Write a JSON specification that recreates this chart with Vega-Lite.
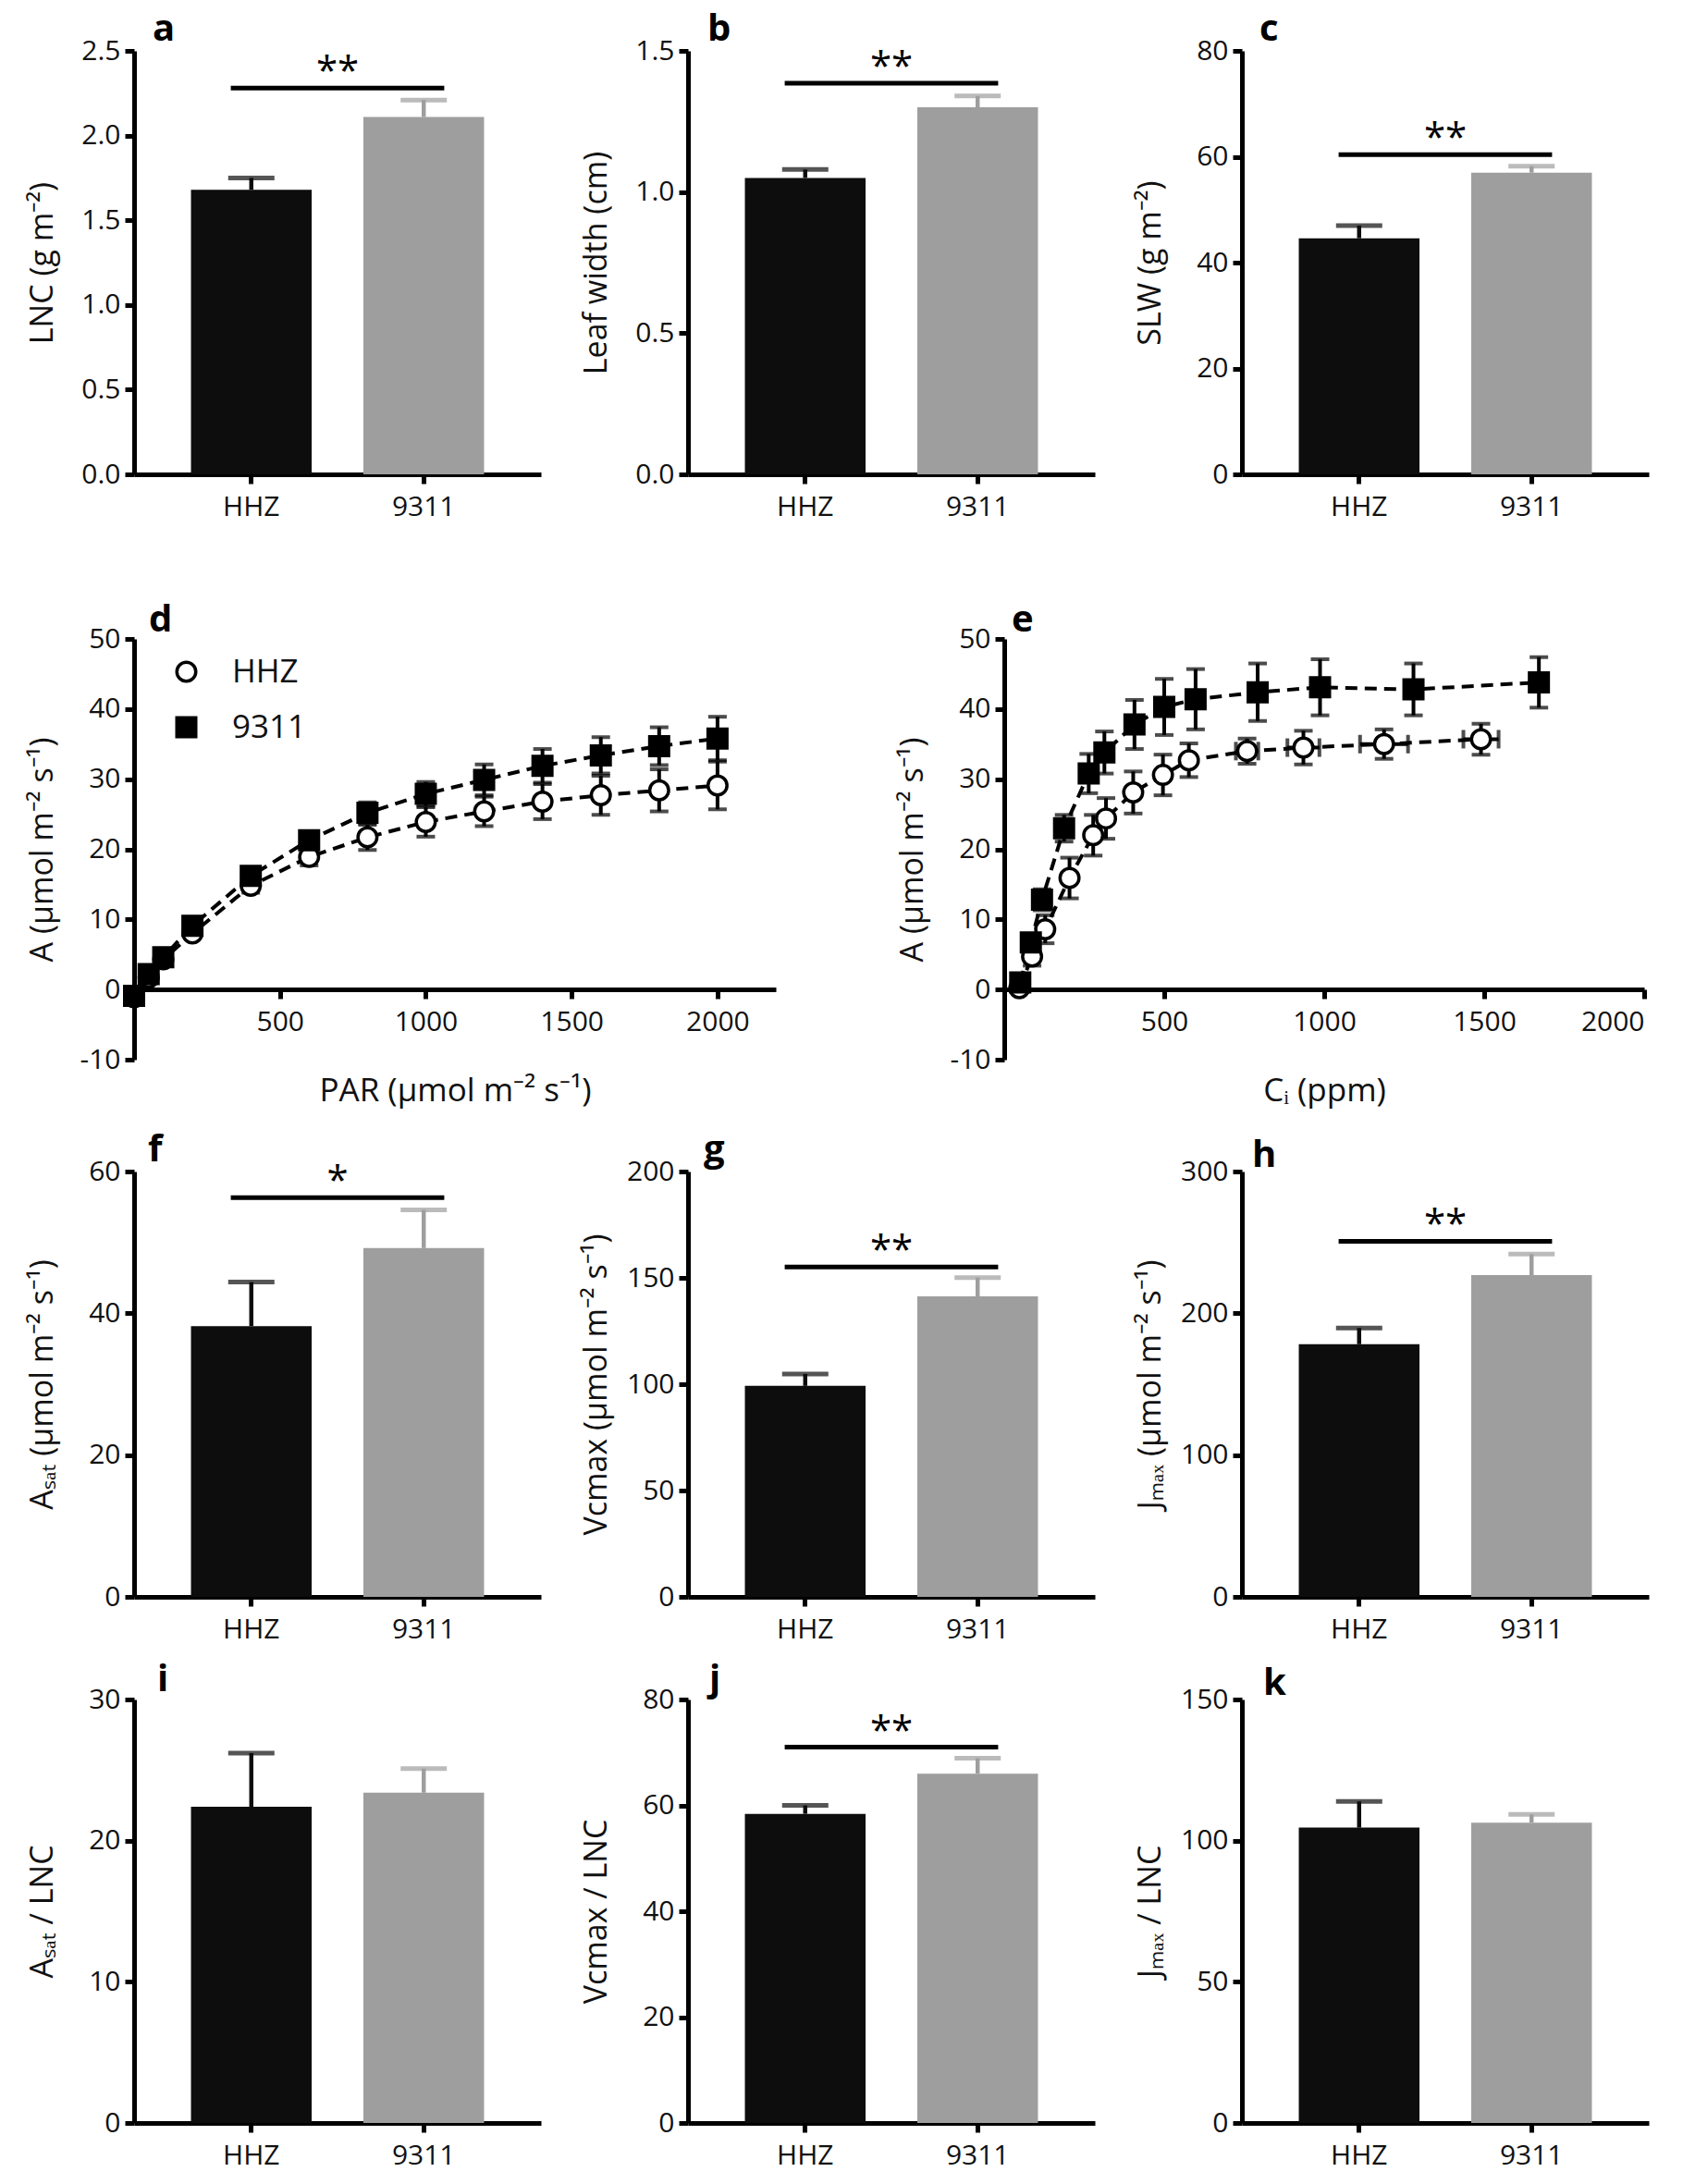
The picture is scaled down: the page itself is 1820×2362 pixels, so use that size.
{
"$schema": "https://vega.github.io/schema/vega-lite/v6.json",
"padding": {"left": 29, "top": 12, "right": 5, "bottom": 2},
"background": "white",
"datasets": {
"bars": [
{"panel":"a","cultivar":"HHZ","value":1.68,"cap":1.75},
{"panel":"a","cultivar":"9311","value":2.11,"cap":2.21},
{"panel":"b","cultivar":"HHZ","value":1.05,"cap":1.08},
{"panel":"b","cultivar":"9311","value":1.30,"cap":1.34},
{"panel":"c","cultivar":"HHZ","value":44.6,"cap":47.0},
{"panel":"c","cultivar":"9311","value":57.0,"cap":58.2},
{"panel":"f","cultivar":"HHZ","value":38.2,"cap":44.4},
{"panel":"f","cultivar":"9311","value":49.2,"cap":54.6},
{"panel":"g","cultivar":"HHZ","value":99.2,"cap":104.8},
{"panel":"g","cultivar":"9311","value":141.3,"cap":150.1},
{"panel":"h","cultivar":"HHZ","value":178.2,"cap":189.7},
{"panel":"h","cultivar":"9311","value":226.9,"cap":241.8},
{"panel":"i","cultivar":"HHZ","value":22.4,"cap":26.2},
{"panel":"i","cultivar":"9311","value":23.4,"cap":25.1},
{"panel":"j","cultivar":"HHZ","value":58.4,"cap":60.0},
{"panel":"j","cultivar":"9311","value":66.0,"cap":68.9},
{"panel":"k","cultivar":"HHZ","value":104.6,"cap":113.9},
{"panel":"k","cultivar":"9311","value":106.4,"cap":109.3}
],
"sig": [
{"panel":"a","from":"HHZ","to":"9311","y":2.28,"stars":"**"},
{"panel":"b","from":"HHZ","to":"9311","y":1.385,"stars":"**"},
{"panel":"c","from":"HHZ","to":"9311","y":60.4,"stars":"**"},
{"panel":"f","from":"HHZ","to":"9311","y":56.3,"stars":"*"},
{"panel":"g","from":"HHZ","to":"9311","y":155.1,"stars":"**"},
{"panel":"h","from":"HHZ","to":"9311","y":250.8,"stars":"**"},
{"panel":"j","from":"HHZ","to":"9311","y":71.0,"stars":"**"}
],
"light": [
{"cultivar":"HHZ","PAR":0,"A":-1.1,"err":0.3},
{"cultivar":"HHZ","PAR":50,"A":1.7,"err":0.3},
{"cultivar":"HHZ","PAR":100,"A":4.3,"err":0.4},
{"cultivar":"HHZ","PAR":200,"A":8.0,"err":0.6},
{"cultivar":"HHZ","PAR":400,"A":14.8,"err":1.0},
{"cultivar":"HHZ","PAR":600,"A":18.9,"err":1.2},
{"cultivar":"HHZ","PAR":800,"A":21.7,"err":1.8},
{"cultivar":"HHZ","PAR":1000,"A":23.9,"err":2.1},
{"cultivar":"HHZ","PAR":1200,"A":25.4,"err":2.1},
{"cultivar":"HHZ","PAR":1400,"A":26.8,"err":2.5},
{"cultivar":"HHZ","PAR":1600,"A":27.7,"err":2.8},
{"cultivar":"HHZ","PAR":1800,"A":28.4,"err":3.0},
{"cultivar":"HHZ","PAR":2000,"A":29.1,"err":3.4},
{"cultivar":"9311","PAR":0,"A":-0.9,"err":0.3},
{"cultivar":"9311","PAR":50,"A":2.2,"err":0.3},
{"cultivar":"9311","PAR":100,"A":4.6,"err":0.4},
{"cultivar":"9311","PAR":200,"A":9.1,"err":0.6},
{"cultivar":"9311","PAR":400,"A":16.2,"err":1.0},
{"cultivar":"9311","PAR":600,"A":21.3,"err":1.0},
{"cultivar":"9311","PAR":800,"A":25.2,"err":1.5},
{"cultivar":"9311","PAR":1000,"A":27.9,"err":1.7},
{"cultivar":"9311","PAR":1200,"A":29.9,"err":2.2},
{"cultivar":"9311","PAR":1400,"A":31.9,"err":2.4},
{"cultivar":"9311","PAR":1600,"A":33.4,"err":2.6},
{"cultivar":"9311","PAR":1800,"A":34.7,"err":2.7},
{"cultivar":"9311","PAR":2000,"A":35.8,"err":3.1}
],
"aci": [
{"cultivar":"HHZ","Ci":47,"A":0.2,"err":0.5,"xerr":0},
{"cultivar":"HHZ","Ci":87,"A":4.7,"err":1.3,"xerr":0},
{"cultivar":"HHZ","Ci":128,"A":8.6,"err":2.0,"xerr":0},
{"cultivar":"HHZ","Ci":204,"A":15.9,"err":2.9,"xerr":0},
{"cultivar":"HHZ","Ci":278,"A":22.0,"err":2.9,"xerr":0},
{"cultivar":"HHZ","Ci":318,"A":24.4,"err":2.9,"xerr":0},
{"cultivar":"HHZ","Ci":403,"A":28.1,"err":3.0,"xerr":0},
{"cultivar":"HHZ","Ci":496,"A":30.6,"err":2.9,"xerr":0},
{"cultivar":"HHZ","Ci":577,"A":32.7,"err":2.4,"xerr":0},
{"cultivar":"HHZ","Ci":759,"A":34.0,"err":1.8,"xerr":35},
{"cultivar":"HHZ","Ci":935,"A":34.5,"err":2.4,"xerr":50},
{"cultivar":"HHZ","Ci":1187,"A":35.0,"err":2.1,"xerr":75},
{"cultivar":"HHZ","Ci":1490,"A":35.7,"err":2.2,"xerr":55},
{"cultivar":"9311","Ci":50,"A":1.0,"err":0.5,"xerr":0},
{"cultivar":"9311","Ci":83,"A":6.7,"err":1.2,"xerr":0},
{"cultivar":"9311","Ci":118,"A":12.8,"err":1.5,"xerr":0},
{"cultivar":"9311","Ci":187,"A":23.0,"err":1.9,"xerr":0},
{"cultivar":"9311","Ci":264,"A":30.8,"err":2.8,"xerr":0},
{"cultivar":"9311","Ci":313,"A":33.8,"err":3.0,"xerr":0},
{"cultivar":"9311","Ci":407,"A":37.8,"err":3.5,"xerr":0},
{"cultivar":"9311","Ci":500,"A":40.3,"err":4.0,"xerr":0},
{"cultivar":"9311","Ci":598,"A":41.4,"err":4.3,"xerr":0},
{"cultivar":"9311","Ci":792,"A":42.4,"err":4.1,"xerr":0},
{"cultivar":"9311","Ci":987,"A":43.1,"err":4.0,"xerr":0},
{"cultivar":"9311","Ci":1279,"A":42.8,"err":3.7,"xerr":0},
{"cultivar":"9311","Ci":1671,"A":43.8,"err":3.6,"xerr":0}
]
},
"resolve": {"scale": {"shape":"independent","fill":"independent","stroke":"independent"}, "legend": {"shape":"independent","fill":"independent","stroke":"independent"}},
"vconcat": [
{"hconcat": [
{"width":440,"height":458,"title":{"text":"a","dx":20,"offset":-12},
"layer":[
{"data":{"name":"bars"},"transform":[{"filter":"datum.panel==='a'"}],"mark":{"type":"bar"},
"encoding":{"x":{"field":"cultivar","type":"nominal","scale":{"domain":["HHZ","9311"],"paddingInner":0.3,"paddingOuter":0.33},"axis":{"title":null,"labelAngle":0}},
"y":{"field":"value","type":"quantitative","scale":{"domain":[0,2.5],"nice":false},"axis":{"title":"LNC (g m⁻²)","values":[0,0.5,1,1.5,2,2.5],"format":".1f"}},
"color":{"field":"cultivar","type":"nominal","scale":{"domain":["HHZ","9311"],"range":["#0d0d0d","#9e9e9e"]},"legend":null}}},
{"data":{"name":"bars"},"transform":[{"filter":"datum.panel==='a'"}],"mark":{"type":"rule","strokeWidth":4.5},
"encoding":{"x":{"field":"cultivar","type":"nominal"},"y":{"field":"value","type":"quantitative"},"y2":{"field":"cap"},"color":{"field":"cultivar","type":"nominal","legend":null}}},
{"data":{"name":"bars"},"transform":[{"filter":"datum.panel==='a'"}],"mark":{"type":"tick","size":50,"thickness":5},
"encoding":{"x":{"field":"cultivar","type":"nominal"},"y":{"field":"cap","type":"quantitative"},"color":{"field":"cultivar","type":"nominal","legend":null}}},
{"data":{"name":"sig"},"transform":[{"filter":"datum.panel==='a'"}],"mark":{"type":"rule","strokeWidth":5,"color":"#000"},
"encoding":{"x":{"field":"from","type":"nominal","bandPosition":0.33},"x2":{"field":"to","bandPosition":0.67},"y":{"field":"y","type":"quantitative"}}},
{"data":{"name":"sig"},"transform":[{"filter":"datum.panel==='a'"}],"mark":{"type":"text","fontSize":42,"baseline":"alphabetic","dy":-4,"color":"#000"},
"encoding":{"x":{"field":"from","type":"nominal","bandPosition":1.2143},"y":{"field":"y","type":"quantitative"},"text":{"field":"stars"}}}
]},
{"width":440,"height":458,"title":{"text":"b","dx":21,"offset":-12},
"layer":[
{"data":{"name":"bars"},"transform":[{"filter":"datum.panel==='b'"}],"mark":{"type":"bar"},
"encoding":{"x":{"field":"cultivar","type":"nominal","scale":{"domain":["HHZ","9311"],"paddingInner":0.3,"paddingOuter":0.33},"axis":{"title":null,"labelAngle":0}},
"y":{"field":"value","type":"quantitative","scale":{"domain":[0,1.5],"nice":false},"axis":{"title":"Leaf width (cm)","values":[0,0.5,1,1.5],"format":".1f"}},
"color":{"field":"cultivar","type":"nominal","scale":{"domain":["HHZ","9311"],"range":["#0d0d0d","#9e9e9e"]},"legend":null}}},
{"data":{"name":"bars"},"transform":[{"filter":"datum.panel==='b'"}],"mark":{"type":"rule","strokeWidth":4.5},
"encoding":{"x":{"field":"cultivar","type":"nominal"},"y":{"field":"value","type":"quantitative"},"y2":{"field":"cap"},"color":{"field":"cultivar","type":"nominal","legend":null}}},
{"data":{"name":"bars"},"transform":[{"filter":"datum.panel==='b'"}],"mark":{"type":"tick","size":50,"thickness":5},
"encoding":{"x":{"field":"cultivar","type":"nominal"},"y":{"field":"cap","type":"quantitative"},"color":{"field":"cultivar","type":"nominal","legend":null}}},
{"data":{"name":"sig"},"transform":[{"filter":"datum.panel==='b'"}],"mark":{"type":"rule","strokeWidth":5,"color":"#000"},
"encoding":{"x":{"field":"from","type":"nominal","bandPosition":0.33},"x2":{"field":"to","bandPosition":0.67},"y":{"field":"y","type":"quantitative"}}},
{"data":{"name":"sig"},"transform":[{"filter":"datum.panel==='b'"}],"mark":{"type":"text","fontSize":42,"baseline":"alphabetic","dy":-4,"color":"#000"},
"encoding":{"x":{"field":"from","type":"nominal","bandPosition":1.2143},"y":{"field":"y","type":"quantitative"},"text":{"field":"stars"}}}
]},
{"width":440,"height":458,"title":{"text":"c","dx":19,"offset":-12},
"layer":[
{"data":{"name":"bars"},"transform":[{"filter":"datum.panel==='c'"}],"mark":{"type":"bar"},
"encoding":{"x":{"field":"cultivar","type":"nominal","scale":{"domain":["HHZ","9311"],"paddingInner":0.3,"paddingOuter":0.33},"axis":{"title":null,"labelAngle":0}},
"y":{"field":"value","type":"quantitative","scale":{"domain":[0,80],"nice":false},"axis":{"title":"SLW (g m⁻²)","values":[0,20,40,60,80]}},
"color":{"field":"cultivar","type":"nominal","scale":{"domain":["HHZ","9311"],"range":["#0d0d0d","#9e9e9e"]},"legend":null}}},
{"data":{"name":"bars"},"transform":[{"filter":"datum.panel==='c'"}],"mark":{"type":"rule","strokeWidth":4.5},
"encoding":{"x":{"field":"cultivar","type":"nominal"},"y":{"field":"value","type":"quantitative"},"y2":{"field":"cap"},"color":{"field":"cultivar","type":"nominal","legend":null}}},
{"data":{"name":"bars"},"transform":[{"filter":"datum.panel==='c'"}],"mark":{"type":"tick","size":50,"thickness":5},
"encoding":{"x":{"field":"cultivar","type":"nominal"},"y":{"field":"cap","type":"quantitative"},"color":{"field":"cultivar","type":"nominal","legend":null}}},
{"data":{"name":"sig"},"transform":[{"filter":"datum.panel==='c'"}],"mark":{"type":"rule","strokeWidth":5,"color":"#000"},
"encoding":{"x":{"field":"from","type":"nominal","bandPosition":0.33},"x2":{"field":"to","bandPosition":0.67},"y":{"field":"y","type":"quantitative"}}},
{"data":{"name":"sig"},"transform":[{"filter":"datum.panel==='c'"}],"mark":{"type":"text","fontSize":42,"baseline":"alphabetic","dy":-4,"color":"#000"},
"encoding":{"x":{"field":"from","type":"nominal","bandPosition":1.2143},"y":{"field":"y","type":"quantitative"},"text":{"field":"stars"}}}
]}
], "spacing": 43},
{"resolve": {"scale": {"shape":"independent","fill":"independent","stroke":"independent"}, "legend": {"shape":"independent","fill":"independent","stroke":"independent"}},
"vconcat": [
{"resolve": {"scale": {"shape":"independent","fill":"independent","stroke":"independent"}, "legend": {"shape":"independent","fill":"independent","stroke":"independent"}},
"hconcat": [
{"width":694,"height":455,"title":{"text":"d","dx":16,"offset":-15},
"data":{"name":"light"},
"encoding":{
"x":{"field":"PAR","type":"quantitative","scale":{"domain":[0,2200],"nice":false,"zero":false},"axis":{"title":"PAR (μmol m⁻² s⁻¹)","values":[500,1000,1500,2000],"labelExpr":"'' + datum.value","offset":-76,"titlePadding":42,"titleFontSize":35}},
"y":{"field":"A","type":"quantitative","scale":{"domain":[-10,50],"nice":false,"zero":false},"axis":{"title":"A (μmol m⁻² s⁻¹)","values":[-10,0,10,20,30,40,50],"labelExpr":"'' + datum.value"}}},
"layer":[
{"mark":{"type":"line","color":"#000","strokeWidth":4,"strokeDash":[13,8]},"encoding":{"detail":{"field":"cultivar","type":"nominal"}}},
{"mark":{"type":"errorbar","ticks":true,"size":20,"thickness":4,"color":"#000"},"encoding":{"yError":{"field":"err"}}},
{"mark":{"type":"point","filled":true,"strokeWidth":3.5,"size":420,"opacity":1},
"encoding":{
"shape":{"field":"cultivar","type":"nominal","scale":{"domain":["HHZ","9311"],"range":["circle","square"]},"legend":{"title":null,"orient":"top-left","offset":18,"padding":0,"labelFontSize":35,"symbolSize":420,"symbolStrokeWidth":3.5,"symbolOffset":21,"rowPadding":24,"labelOffset":32,"labelColor":"#111"}},
"fill":{"field":"cultivar","type":"nominal","scale":{"domain":["HHZ","9311"],"range":["#ffffff","#000000"]},"legend":{"title":null,"orient":"top-left","offset":18,"padding":0,"labelFontSize":35,"symbolSize":420,"symbolStrokeWidth":3.5,"symbolOffset":21,"rowPadding":24,"labelOffset":32,"labelColor":"#111"}},
"stroke":{"field":"cultivar","type":"nominal","scale":{"domain":["HHZ","9311"],"range":["#000000","#000000"]},"legend":{"title":null,"orient":"top-left","offset":18,"padding":0,"labelFontSize":35,"symbolSize":420,"symbolStrokeWidth":3.5,"symbolOffset":21,"rowPadding":24,"labelOffset":32,"labelColor":"#111"}}}}
]},
{"width":692,"height":455,"title":{"text":"e","dx":8,"offset":-15},
"data":{"name":"aci"},
"encoding":{
"x":{"field":"Ci","type":"quantitative","scale":{"domain":[0,2000],"nice":false,"zero":false},"axis":{"title":"Cᵢ (ppm)","values":[500,1000,1500,2000],"labelExpr":"'' + datum.value","offset":-76,"titlePadding":42,"titleFontSize":35}},
"y":{"field":"A","type":"quantitative","scale":{"domain":[-10,50],"nice":false,"zero":false},"axis":{"title":"A (μmol m⁻² s⁻¹)","values":[-10,0,10,20,30,40,50],"labelExpr":"'' + datum.value"}}},
"layer":[
{"mark":{"type":"line","color":"#000","strokeWidth":4,"strokeDash":[13,8]},"encoding":{"detail":{"field":"cultivar","type":"nominal"}}},
{"mark":{"type":"errorbar","ticks":true,"size":20,"thickness":4,"color":"#000"},"encoding":{"yError":{"field":"err"}}},
{"transform":[{"filter":"datum.xerr > 0"}],"mark":{"type":"errorbar","ticks":true,"size":20,"thickness":4,"color":"#000"},"encoding":{"xError":{"field":"xerr"}}},
{"mark":{"type":"point","filled":true,"stroke":"#000","strokeWidth":3.5,"size":420,"opacity":1},
"encoding":{
"shape":{"field":"cultivar","type":"nominal","scale":{"domain":["HHZ","9311"],"range":["circle","square"]},"legend":null},
"fill":{"field":"cultivar","type":"nominal","scale":{"domain":["HHZ","9311"],"range":["#ffffff","#000000"]},"legend":null}}}
]}
], "spacing": 131},
{"vconcat": [
{"hconcat": [
{"width":440,"height":460,"title":{"text":"f","dx":15,"offset":-12},
"layer":[
{"data":{"name":"bars"},"transform":[{"filter":"datum.panel==='f'"}],"mark":{"type":"bar"},
"encoding":{"x":{"field":"cultivar","type":"nominal","scale":{"domain":["HHZ","9311"],"paddingInner":0.3,"paddingOuter":0.33},"axis":{"title":null,"labelAngle":0}},
"y":{"field":"value","type":"quantitative","scale":{"domain":[0,60],"nice":false},"axis":{"title":"Aₛₐₜ (μmol m⁻² s⁻¹)","values":[0,20,40,60]}},
"color":{"field":"cultivar","type":"nominal","scale":{"domain":["HHZ","9311"],"range":["#0d0d0d","#9e9e9e"]},"legend":null}}},
{"data":{"name":"bars"},"transform":[{"filter":"datum.panel==='f'"}],"mark":{"type":"rule","strokeWidth":4.5},
"encoding":{"x":{"field":"cultivar","type":"nominal"},"y":{"field":"value","type":"quantitative"},"y2":{"field":"cap"},"color":{"field":"cultivar","type":"nominal","legend":null}}},
{"data":{"name":"bars"},"transform":[{"filter":"datum.panel==='f'"}],"mark":{"type":"tick","size":50,"thickness":5},
"encoding":{"x":{"field":"cultivar","type":"nominal"},"y":{"field":"cap","type":"quantitative"},"color":{"field":"cultivar","type":"nominal","legend":null}}},
{"data":{"name":"sig"},"transform":[{"filter":"datum.panel==='f'"}],"mark":{"type":"rule","strokeWidth":5,"color":"#000"},
"encoding":{"x":{"field":"from","type":"nominal","bandPosition":0.33},"x2":{"field":"to","bandPosition":0.67},"y":{"field":"y","type":"quantitative"}}},
{"data":{"name":"sig"},"transform":[{"filter":"datum.panel==='f'"}],"mark":{"type":"text","fontSize":42,"baseline":"alphabetic","dy":-4,"color":"#000"},
"encoding":{"x":{"field":"from","type":"nominal","bandPosition":1.2143},"y":{"field":"y","type":"quantitative"},"text":{"field":"stars"}}}
]},
{"width":440,"height":460,"title":{"text":"g","dx":17,"offset":-12},
"layer":[
{"data":{"name":"bars"},"transform":[{"filter":"datum.panel==='g'"}],"mark":{"type":"bar"},
"encoding":{"x":{"field":"cultivar","type":"nominal","scale":{"domain":["HHZ","9311"],"paddingInner":0.3,"paddingOuter":0.33},"axis":{"title":null,"labelAngle":0}},
"y":{"field":"value","type":"quantitative","scale":{"domain":[0,200],"nice":false},"axis":{"title":"Vcmax (μmol m⁻² s⁻¹)","values":[0,50,100,150,200]}},
"color":{"field":"cultivar","type":"nominal","scale":{"domain":["HHZ","9311"],"range":["#0d0d0d","#9e9e9e"]},"legend":null}}},
{"data":{"name":"bars"},"transform":[{"filter":"datum.panel==='g'"}],"mark":{"type":"rule","strokeWidth":4.5},
"encoding":{"x":{"field":"cultivar","type":"nominal"},"y":{"field":"value","type":"quantitative"},"y2":{"field":"cap"},"color":{"field":"cultivar","type":"nominal","legend":null}}},
{"data":{"name":"bars"},"transform":[{"filter":"datum.panel==='g'"}],"mark":{"type":"tick","size":50,"thickness":5},
"encoding":{"x":{"field":"cultivar","type":"nominal"},"y":{"field":"cap","type":"quantitative"},"color":{"field":"cultivar","type":"nominal","legend":null}}},
{"data":{"name":"sig"},"transform":[{"filter":"datum.panel==='g'"}],"mark":{"type":"rule","strokeWidth":5,"color":"#000"},
"encoding":{"x":{"field":"from","type":"nominal","bandPosition":0.33},"x2":{"field":"to","bandPosition":0.67},"y":{"field":"y","type":"quantitative"}}},
{"data":{"name":"sig"},"transform":[{"filter":"datum.panel==='g'"}],"mark":{"type":"text","fontSize":42,"baseline":"alphabetic","dy":-4,"color":"#000"},
"encoding":{"x":{"field":"from","type":"nominal","bandPosition":1.2143},"y":{"field":"y","type":"quantitative"},"text":{"field":"stars"}}}
]},
{"width":440,"height":460,"title":{"text":"h","dx":11,"offset":-18},
"layer":[
{"data":{"name":"bars"},"transform":[{"filter":"datum.panel==='h'"}],"mark":{"type":"bar"},
"encoding":{"x":{"field":"cultivar","type":"nominal","scale":{"domain":["HHZ","9311"],"paddingInner":0.3,"paddingOuter":0.33},"axis":{"title":null,"labelAngle":0}},
"y":{"field":"value","type":"quantitative","scale":{"domain":[0,300],"nice":false},"axis":{"title":"Jₘₐₓ (μmol m⁻² s⁻¹)","values":[0,100,200,300]}},
"color":{"field":"cultivar","type":"nominal","scale":{"domain":["HHZ","9311"],"range":["#0d0d0d","#9e9e9e"]},"legend":null}}},
{"data":{"name":"bars"},"transform":[{"filter":"datum.panel==='h'"}],"mark":{"type":"rule","strokeWidth":4.5},
"encoding":{"x":{"field":"cultivar","type":"nominal"},"y":{"field":"value","type":"quantitative"},"y2":{"field":"cap"},"color":{"field":"cultivar","type":"nominal","legend":null}}},
{"data":{"name":"bars"},"transform":[{"filter":"datum.panel==='h'"}],"mark":{"type":"tick","size":50,"thickness":5},
"encoding":{"x":{"field":"cultivar","type":"nominal"},"y":{"field":"cap","type":"quantitative"},"color":{"field":"cultivar","type":"nominal","legend":null}}},
{"data":{"name":"sig"},"transform":[{"filter":"datum.panel==='h'"}],"mark":{"type":"rule","strokeWidth":5,"color":"#000"},
"encoding":{"x":{"field":"from","type":"nominal","bandPosition":0.33},"x2":{"field":"to","bandPosition":0.67},"y":{"field":"y","type":"quantitative"}}},
{"data":{"name":"sig"},"transform":[{"filter":"datum.panel==='h'"}],"mark":{"type":"text","fontSize":42,"baseline":"alphabetic","dy":-4,"color":"#000"},
"encoding":{"x":{"field":"from","type":"nominal","bandPosition":1.2143},"y":{"field":"y","type":"quantitative"},"text":{"field":"stars"}}}
]}
], "spacing": 43},
{"hconcat": [
{"width":440,"height":458,"title":{"text":"i","dx":25,"offset":-14},
"layer":[
{"data":{"name":"bars"},"transform":[{"filter":"datum.panel==='i'"}],"mark":{"type":"bar"},
"encoding":{"x":{"field":"cultivar","type":"nominal","scale":{"domain":["HHZ","9311"],"paddingInner":0.3,"paddingOuter":0.33},"axis":{"title":null,"labelAngle":0}},
"y":{"field":"value","type":"quantitative","scale":{"domain":[0,30],"nice":false},"axis":{"title":"Aₛₐₜ / LNC","values":[0,10,20,30]}},
"color":{"field":"cultivar","type":"nominal","scale":{"domain":["HHZ","9311"],"range":["#0d0d0d","#9e9e9e"]},"legend":null}}},
{"data":{"name":"bars"},"transform":[{"filter":"datum.panel==='i'"}],"mark":{"type":"rule","strokeWidth":4.5},
"encoding":{"x":{"field":"cultivar","type":"nominal"},"y":{"field":"value","type":"quantitative"},"y2":{"field":"cap"},"color":{"field":"cultivar","type":"nominal","legend":null}}},
{"data":{"name":"bars"},"transform":[{"filter":"datum.panel==='i'"}],"mark":{"type":"tick","size":50,"thickness":5},
"encoding":{"x":{"field":"cultivar","type":"nominal"},"y":{"field":"cap","type":"quantitative"},"color":{"field":"cultivar","type":"nominal","legend":null}}}
]},
{"width":440,"height":458,"title":{"text":"j","dx":23,"offset":-14},
"layer":[
{"data":{"name":"bars"},"transform":[{"filter":"datum.panel==='j'"}],"mark":{"type":"bar"},
"encoding":{"x":{"field":"cultivar","type":"nominal","scale":{"domain":["HHZ","9311"],"paddingInner":0.3,"paddingOuter":0.33},"axis":{"title":null,"labelAngle":0}},
"y":{"field":"value","type":"quantitative","scale":{"domain":[0,80],"nice":false},"axis":{"title":"Vcmax / LNC","values":[0,20,40,60,80]}},
"color":{"field":"cultivar","type":"nominal","scale":{"domain":["HHZ","9311"],"range":["#0d0d0d","#9e9e9e"]},"legend":null}}},
{"data":{"name":"bars"},"transform":[{"filter":"datum.panel==='j'"}],"mark":{"type":"rule","strokeWidth":4.5},
"encoding":{"x":{"field":"cultivar","type":"nominal"},"y":{"field":"value","type":"quantitative"},"y2":{"field":"cap"},"color":{"field":"cultivar","type":"nominal","legend":null}}},
{"data":{"name":"bars"},"transform":[{"filter":"datum.panel==='j'"}],"mark":{"type":"tick","size":50,"thickness":5},
"encoding":{"x":{"field":"cultivar","type":"nominal"},"y":{"field":"cap","type":"quantitative"},"color":{"field":"cultivar","type":"nominal","legend":null}}},
{"data":{"name":"sig"},"transform":[{"filter":"datum.panel==='j'"}],"mark":{"type":"rule","strokeWidth":5,"color":"#000"},
"encoding":{"x":{"field":"from","type":"nominal","bandPosition":0.33},"x2":{"field":"to","bandPosition":0.67},"y":{"field":"y","type":"quantitative"}}},
{"data":{"name":"sig"},"transform":[{"filter":"datum.panel==='j'"}],"mark":{"type":"text","fontSize":42,"baseline":"alphabetic","dy":-4,"color":"#000"},
"encoding":{"x":{"field":"from","type":"nominal","bandPosition":1.2143},"y":{"field":"y","type":"quantitative"},"text":{"field":"stars"}}}
]},
{"width":440,"height":458,"title":{"text":"k","dx":23,"offset":-18},
"layer":[
{"data":{"name":"bars"},"transform":[{"filter":"datum.panel==='k'"}],"mark":{"type":"bar"},
"encoding":{"x":{"field":"cultivar","type":"nominal","scale":{"domain":["HHZ","9311"],"paddingInner":0.3,"paddingOuter":0.33},"axis":{"title":null,"labelAngle":0}},
"y":{"field":"value","type":"quantitative","scale":{"domain":[0,150],"nice":false},"axis":{"title":"Jₘₐₓ / LNC","values":[0,50,100,150]}},
"color":{"field":"cultivar","type":"nominal","scale":{"domain":["HHZ","9311"],"range":["#0d0d0d","#9e9e9e"]},"legend":null}}},
{"data":{"name":"bars"},"transform":[{"filter":"datum.panel==='k'"}],"mark":{"type":"rule","strokeWidth":4.5},
"encoding":{"x":{"field":"cultivar","type":"nominal"},"y":{"field":"value","type":"quantitative"},"y2":{"field":"cap"},"color":{"field":"cultivar","type":"nominal","legend":null}}},
{"data":{"name":"bars"},"transform":[{"filter":"datum.panel==='k'"}],"mark":{"type":"tick","size":50,"thickness":5},
"encoding":{"x":{"field":"cultivar","type":"nominal"},"y":{"field":"cap","type":"quantitative"},"color":{"field":"cultivar","type":"nominal","legend":null}}}
]}
], "spacing": 43}
], "spacing": 20}
], "spacing": 27}
],
"spacing": 88,
"config": {
"font": "Open Sans",
"view": {"stroke": null},
"axis": {"domainColor":"#000","domainWidth":5,"tickColor":"#000","tickWidth":5,"tickSize":10,"labelFontSize":30,"labelColor":"#111","titleFontSize":34,"titleFontWeight":"normal","titleColor":"#111","grid":false,"zindex":1,"labelFont":"Open Sans","titleFont":"Open Sans"},
"axisY": {"minExtent":68,"maxExtent":68,"titlePadding":14,"labelPadding":5},
"axisX": {"labelPadding":10},
"title": {"fontSize":40,"fontWeight":"bold","anchor":"start","frame":"group","baseline":"alphabetic","color":"#000","offset":0}
}
}
